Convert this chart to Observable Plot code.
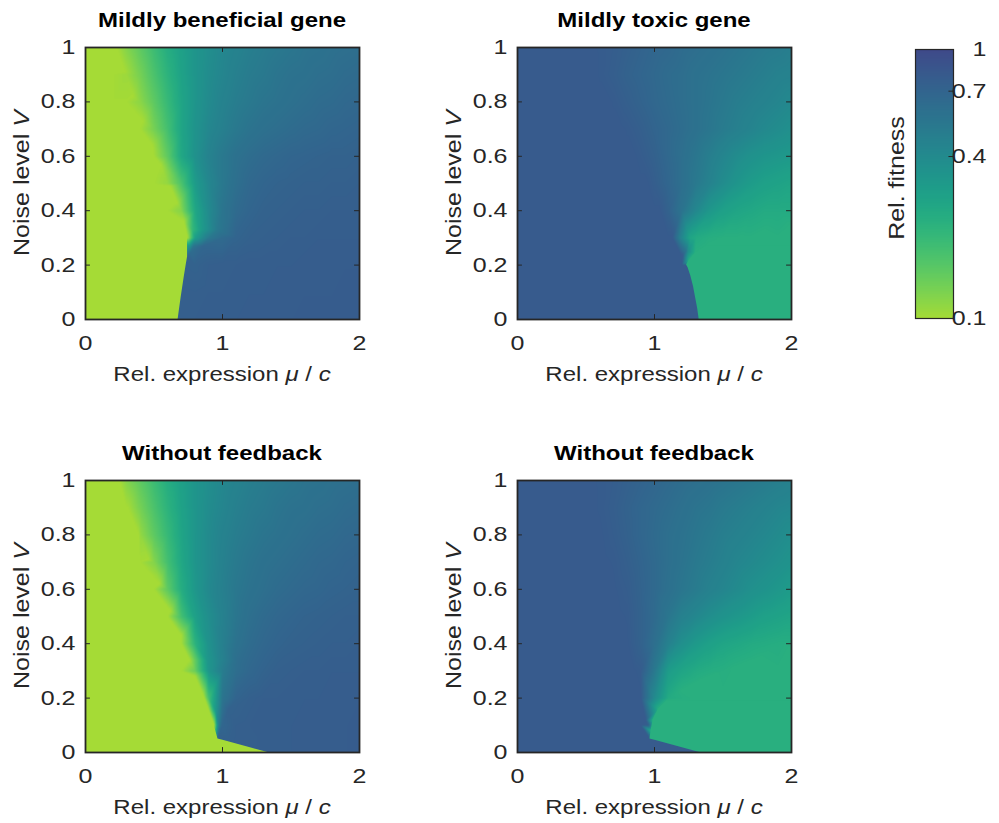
<!DOCTYPE html>
<html><head><meta charset="utf-8">
<script src="https://cdn.jsdelivr.net/npm/d3@7"></script>
<script src="https://cdn.jsdelivr.net/npm/@observablehq/plot@0.6"></script>
<style>
body{margin:0;background:#fff;}
#fig{position:relative;width:999px;height:823px;background:#fff;overflow:hidden;font-family:"Liberation Sans",Arial,sans-serif;}
#fig svg{position:absolute;}
.lab{position:absolute;white-space:nowrap;font-size:20px;line-height:20px;color:#262626;}
.title{font-weight:bold;color:#000;}
</style></head><body><div id="fig"></div>
<script>
// ---- axes ----
const xDomain = [0, 2];
const vDomain = [0, 1];
const xTicks = [0, 1, 2];
const yTicks = [0, 0.2, 0.4, 0.6, 0.8, 1];
const cbTicks = [0.1, 0.4, 0.7, 1];
const cbTickLabels = ["0.1", "0.4", "0.7", "1"];

// ---- sample grid (x = rel. expression, V = noise level; rows top V=1 -> bottom V=0) ----
const gridX = [0,0.1,0.2,0.3,0.4,0.5,0.6,0.7,0.8,0.9,1,1.1,1.2,1.3,1.4,1.5,1.6,1.7,1.8,1.9,2];
const gridV = [1,0.9,0.8,0.7,0.6,0.5,0.4,0.3,0.2,0.1,0];

const titles = ["Mildly beneficial gene", "Mildly toxic gene", "Without feedback", "Without feedback"];

// ===== relative fitness =====
// --- Mildly beneficial gene ---
const benefFB = [
[0.1,0.1,0.1,0.12,0.15,0.19,0.24,0.29,0.34,0.38,0.42,0.45,0.48,0.50,0.52,0.54,0.56,0.57,0.59,0.60,0.61],
[0.1,0.1,0.1,0.105,0.13,0.17,0.22,0.28,0.34,0.39,0.43,0.47,0.50,0.52,0.55,0.57,0.58,0.60,0.61,0.63,0.64],
[0.1,0.1,0.1,0.1,0.115,0.15,0.20,0.27,0.34,0.40,0.45,0.49,0.52,0.55,0.57,0.59,0.61,0.63,0.64,0.66,0.67],
[0.1,0.1,0.1,0.1,0.1,0.13,0.18,0.27,0.35,0.42,0.47,0.52,0.56,0.59,0.61,0.63,0.65,0.66,0.68,0.69,0.70],
[0.1,0.1,0.1,0.1,0.1,0.1,0.15,0.26,0.36,0.45,0.52,0.58,0.62,0.65,0.67,0.69,0.70,0.71,0.72,0.72,0.73],
[0.1,0.1,0.1,0.1,0.1,0.1,0.11,0.17,0.31,0.42,0.52,0.60,0.66,0.69,0.71,0.72,0.73,0.73,0.74,0.74,0.75],
[0.1,0.1,0.1,0.1,0.1,0.1,0.1,0.12,0.26,0.40,0.55,0.64,0.69,0.72,0.73,0.74,0.75,0.75,0.76,0.76,0.76],
[0.1,0.1,0.1,0.1,0.1,0.1,0.1,0.1,0.30,0.52,0.64,0.70,0.73,0.74,0.75,0.76,0.76,0.77,0.77,0.77,0.77],
[0.1,0.1,0.1,0.1,0.1,0.1,0.1,0.1,0.72,0.75,0.76,0.76,0.77,0.77,0.77,0.77,0.78,0.78,0.78,0.78,0.78],
[0.1,0.1,0.1,0.1,0.1,0.1,0.1,0.1,0.75,0.76,0.76,0.77,0.77,0.77,0.78,0.78,0.78,0.78,0.78,0.79,0.79],
[0.1,0.1,0.1,0.1,0.1,0.1,0.1,0.76,0.76,0.77,0.77,0.77,0.78,0.78,0.78,0.78,0.79,0.79,0.79,0.79,0.79]
];
const benefFBSharp = [[0.676,0,0.76],[0.687,0.04,0.76],[0.698,0.08,0.75],[0.710,0.12,0.75],[0.722,0.16,0.74],[0.735,0.2,0.73],[0.745,0.23,0.72]];
const benefFBSoft = [[0.745,0.23],[0.745,0.3],[0.72,0.36],[0.67,0.43],[0.62,0.49],[0.55,0.57],[0.49,0.64],[0.42,0.73],[0.35,0.82],[0.29,0.91],[0.23,1]];
const benefFBFan = [[0.77,0.25,0.62],[0.76,0.27,0.35],[0.79,0.27,0.55],[0.86,0.27,0.68],[0.78,0.33,0.2],[0.84,0.33,0.30],[0.965,0.33,0.52]];

// --- Mildly toxic gene ---
const toxicFB = [
[0.8,0.8,0.8,0.8,0.8,0.8,0.79,0.77,0.74,0.71,0.68,0.66,0.63,0.61,0.59,0.57,0.55,0.53,0.51,0.50,0.48],
[0.8,0.8,0.8,0.8,0.8,0.8,0.79,0.76,0.72,0.69,0.66,0.63,0.61,0.58,0.56,0.54,0.52,0.50,0.48,0.46,0.45],
[0.8,0.8,0.8,0.8,0.8,0.8,0.8,0.79,0.75,0.71,0.67,0.64,0.61,0.58,0.55,0.52,0.49,0.47,0.45,0.43,0.41],
[0.8,0.8,0.8,0.8,0.8,0.8,0.8,0.8,0.79,0.75,0.70,0.66,0.62,0.58,0.54,0.50,0.47,0.44,0.41,0.39,0.37],
[0.8,0.8,0.8,0.8,0.8,0.8,0.8,0.8,0.8,0.78,0.73,0.66,0.60,0.54,0.48,0.43,0.39,0.36,0.34,0.33,0.32],
[0.8,0.8,0.8,0.8,0.8,0.8,0.8,0.8,0.8,0.8,0.76,0.68,0.60,0.52,0.45,0.39,0.34,0.31,0.29,0.28,0.27],
[0.8,0.8,0.8,0.8,0.8,0.8,0.8,0.8,0.8,0.8,0.8,0.72,0.56,0.42,0.33,0.29,0.27,0.26,0.25,0.25,0.25],
[0.8,0.8,0.8,0.8,0.8,0.8,0.8,0.8,0.8,0.8,0.8,0.8,0.42,0.25,0.235,0.23,0.23,0.23,0.23,0.23,0.23],
[0.8,0.8,0.8,0.8,0.8,0.8,0.8,0.8,0.8,0.8,0.8,0.8,0.8,0.23,0.23,0.23,0.23,0.23,0.23,0.23,0.23],
[0.8,0.8,0.8,0.8,0.8,0.8,0.8,0.8,0.8,0.8,0.8,0.8,0.8,0.23,0.23,0.23,0.23,0.23,0.23,0.23,0.23],
[0.8,0.8,0.8,0.8,0.8,0.8,0.8,0.8,0.8,0.8,0.8,0.8,0.8,0.8,0.23,0.23,0.23,0.23,0.23,0.23,0.23]
];
const toxicFBSharp = [[1.326,0,0.8],[1.315,0.04,0.8],[1.300,0.08,0.8],[1.285,0.12,0.8],[1.265,0.16,0.8],[1.245,0.19,0.8],[1.234,0.2,0.8]];
const toxicFBSoft = [[1.234,0.2],[1.25,0.215],[1.30,0.245],[1.38,0.27],[1.5,0.29],[1.62,0.305],[1.8,0.325],[2,0.345]];
const toxicFBFan = [[0.47,1,0.8],[0.565,0.9,0.8],[0.66,0.8,0.8],[0.755,0.7,0.8],[0.85,0.6,0.8],[0.945,0.5,0.8],[1.04,0.4,0.8],[1.13,0.3,0.8],[1.19,0.24,0.8],
  [1.21,0.24,0.74],[1.23,0.25,0.55],[1.245,0.25,0.38],[1.19,0.3,0.45],[1.26,0.3,0.27]];

// --- Without feedback (beneficial) ---
const benefNoFB = [
[0.1,0.1,0.1,0.12,0.15,0.19,0.24,0.29,0.34,0.38,0.42,0.45,0.48,0.50,0.52,0.54,0.56,0.57,0.59,0.60,0.61],
[0.1,0.1,0.1,0.1,0.13,0.17,0.22,0.28,0.34,0.39,0.43,0.47,0.50,0.52,0.55,0.57,0.58,0.60,0.61,0.63,0.64],
[0.1,0.1,0.1,0.1,0.11,0.15,0.20,0.27,0.34,0.40,0.45,0.49,0.52,0.55,0.57,0.59,0.61,0.63,0.64,0.66,0.67],
[0.1,0.1,0.1,0.1,0.1,0.12,0.18,0.26,0.34,0.40,0.46,0.51,0.55,0.58,0.60,0.62,0.64,0.66,0.67,0.69,0.70],
[0.1,0.1,0.1,0.1,0.1,0.1,0.15,0.24,0.33,0.41,0.47,0.53,0.57,0.60,0.63,0.65,0.67,0.68,0.70,0.71,0.72],
[0.1,0.1,0.1,0.1,0.1,0.1,0.1,0.18,0.29,0.38,0.46,0.54,0.60,0.64,0.67,0.69,0.71,0.72,0.73,0.74,0.74],
[0.1,0.1,0.1,0.1,0.1,0.1,0.1,0.1,0.22,0.36,0.47,0.57,0.63,0.67,0.70,0.72,0.73,0.74,0.75,0.75,0.76],
[0.1,0.1,0.1,0.1,0.1,0.1,0.1,0.1,0.14,0.34,0.49,0.61,0.67,0.71,0.74,0.75,0.76,0.76,0.77,0.77,0.77],
[0.1,0.1,0.1,0.1,0.1,0.1,0.1,0.1,0.1,0.18,0.55,0.70,0.74,0.76,0.76,0.77,0.77,0.77,0.78,0.78,0.78],
[0.1,0.1,0.1,0.1,0.1,0.1,0.1,0.1,0.1,0.1,0.68,0.75,0.76,0.77,0.77,0.77,0.78,0.78,0.78,0.78,0.79],
[0.1,0.1,0.1,0.1,0.1,0.1,0.1,0.1,0.1,0.1,0.1,0.1,0.1,0.1,0.76,0.77,0.77,0.78,0.78,0.78,0.79]
];
const benefNoFBSharp = [[1.33,0,0.76],[1.29,0.0055,0.76],[1.25,0.011,0.76],[1.21,0.0165,0.75],[1.17,0.022,0.75],[1.13,0.0275,0.75],[1.09,0.033,0.75],[1.05,0.0385,0.74],[1.01,0.044,0.74],[0.967,0.05,0.73]];
const benefNoFBSoft = [[0.967,0.05],[0.94,0.1],[0.90,0.155],[0.86,0.21],[0.80,0.28],[0.76,0.34],[0.70,0.43],[0.62,0.52],[0.54,0.62],[0.46,0.71],[0.39,0.8],[0.31,0.9],[0.25,1]];
const benefNoFBFan = [[0.96,0.1,0.3],[0.975,0.1,0.5],[0.99,0.1,0.64],[0.95,0.155,0.33],[1.0,0.155,0.6],[1.04,0.155,0.72],[0.89,0.34,0.33],[0.99,0.34,0.45],[1.11,0.34,0.61]];

// --- Without feedback (toxic) ---
const toxicNoFB = [
[0.8,0.8,0.8,0.8,0.8,0.8,0.79,0.77,0.74,0.71,0.68,0.65,0.62,0.60,0.58,0.56,0.54,0.52,0.50,0.48,0.46],
[0.8,0.8,0.8,0.8,0.8,0.8,0.79,0.76,0.72,0.68,0.65,0.62,0.59,0.56,0.54,0.51,0.49,0.47,0.45,0.43,0.42],
[0.8,0.8,0.8,0.8,0.8,0.8,0.8,0.77,0.73,0.68,0.64,0.60,0.57,0.54,0.51,0.48,0.46,0.44,0.42,0.40,0.38],
[0.8,0.8,0.8,0.8,0.8,0.8,0.8,0.79,0.75,0.70,0.65,0.60,0.56,0.52,0.49,0.46,0.43,0.41,0.39,0.37,0.35],
[0.8,0.8,0.8,0.8,0.8,0.8,0.8,0.8,0.77,0.71,0.65,0.59,0.54,0.50,0.46,0.43,0.40,0.37,0.35,0.33,0.31],
[0.8,0.8,0.8,0.8,0.8,0.8,0.8,0.8,0.79,0.72,0.64,0.54,0.46,0.42,0.38,0.35,0.33,0.31,0.29,0.28,0.27],
[0.8,0.8,0.8,0.8,0.8,0.8,0.8,0.8,0.8,0.72,0.60,0.46,0.37,0.32,0.29,0.27,0.26,0.25,0.245,0.24,0.24],
[0.8,0.8,0.8,0.8,0.8,0.8,0.8,0.8,0.8,0.78,0.52,0.31,0.27,0.25,0.24,0.235,0.23,0.23,0.23,0.23,0.23],
[0.8,0.8,0.8,0.8,0.8,0.8,0.8,0.8,0.8,0.8,0.40,0.25,0.235,0.23,0.23,0.23,0.23,0.23,0.23,0.23,0.23],
[0.8,0.8,0.8,0.8,0.8,0.8,0.8,0.8,0.8,0.8,0.24,0.23,0.23,0.23,0.23,0.23,0.23,0.23,0.23,0.23,0.23],
[0.8,0.8,0.8,0.8,0.8,0.8,0.8,0.8,0.8,0.8,0.8,0.8,0.8,0.8,0.23,0.23,0.23,0.23,0.23,0.23,0.23]
];
const toxicNoFBSharp = [[1.33,0,0.8],[1.29,0.0055,0.8],[1.25,0.011,0.8],[1.21,0.0165,0.8],[1.17,0.022,0.8],[1.13,0.0275,0.8],[1.09,0.033,0.8],[1.05,0.0385,0.8],[1.01,0.044,0.8],[0.967,0.05,0.8]];
const toxicNoFBSoft = [[0.967,0.05],[0.975,0.08],[0.99,0.12],[1.03,0.16],[1.09,0.19],[1.2,0.23],[1.33,0.265],[1.45,0.29],[1.57,0.31],[1.75,0.345],[2,0.39]];
const toxicNoFBFan = [[0.47,1,0.8],[0.524,0.9,0.8],[0.577,0.8,0.8],[0.63,0.7,0.8],[0.685,0.6,0.8],[0.738,0.5,0.8],[0.79,0.4,0.8],[0.846,0.3,0.8],[0.9,0.2,0.8],[0.935,0.12,0.8],
  [0.955,0.1,0.75],[0.965,0.11,0.5],[0.975,0.115,0.32]];

// plateau levels (flat regions) of each panel
const plateaus = [0.1, 0.23, 0.1, 0.23];

const panels = [
  {grid: benefFB, sharp: benefFBSharp, soft: benefFBSoft, fan: benefFBFan, side: "left", capV: 0.36, left: 0, top: 0},
  {grid: toxicFB, sharp: toxicFBSharp, soft: toxicFBSoft, fan: toxicFBFan, side: "right", capV: 0.27, left: 432, top: 0},
  {grid: benefNoFB, sharp: benefNoFBSharp, soft: benefNoFBSoft, fan: benefNoFBFan, side: "left", capV: 0.21, left: 0, top: 433},
  {grid: toxicNoFB, sharp: toxicNoFBSharp, soft: toxicNoFBSoft, fan: toxicNoFBFan, side: "right", capV: 0.19, left: 432, top: 433}
];

// ---- shared styling ----
const INK = "#262626";
const FONT = "'Liberation Sans', Arial, sans-serif";
const colorScale = {type: "linear", domain: [-1, 0], clamp: true,
  interpolate: t => d3.interpolateViridis(0.865 - 0.645 * t)};
const fig = document.getElementById("fig");
const PXX = 137, PXV = 272; // pixels per data unit (for neighbourhood test only)

function stretchText(svg, k) {
  svg.querySelectorAll("text").forEach(t => {
    const tr = t.getAttribute("transform");
    if (tr) t.setAttribute("transform", tr + ` scale(${k},1)`);
  });
}
function place(svg, left, top) {
  svg.style.left = left + "px";
  svg.style.top = top + "px";
  fig.appendChild(svg);
}
function label(html, cx, baseline, cls) {
  const d = document.createElement("div");
  d.className = "lab " + (cls || "");
  d.innerHTML = html;
  d.style.left = cx + "px";
  d.style.top = (baseline - 17) + "px";
  d.style.transform = "translateX(-50%) scaleX(1.2)";
  fig.appendChild(d);
}
function vlabel(html, cx, cy) {
  const d = document.createElement("div");
  d.className = "lab";
  d.innerHTML = html;
  d.style.left = cx + "px";
  d.style.top = cy + "px";
  d.style.transform = "translate(-50%,-50%) rotate(-90deg) scale(1.25,1.07)";
  fig.appendChild(d);
}

panels.forEach((p, k) => {
  const plateau = plateaus[k];
  const lp = Math.log10(plateau);
  const nearSharp = (x, y) => p.sharp.some(([sx, sy]) => Math.hypot((x - sx) * PXX, (y - sy) * PXV) < 25);
  const pts = [];
  p.grid.forEach((row, i) => row.forEach((v, j) => {
    const x = gridX[j], y = gridV[i];
    if (v === plateau && nearSharp(x, y)) return; // flat area next to the jump: drawn by the area mark
    pts.push({x, y, lv: Math.log10(v)});
  }));
  p.sharp.forEach(([x, y, v]) => pts.push({x, y, lv: Math.log10(v)}));
  p.soft.slice(1).forEach(([x, y]) => pts.push({x, y, lv: lp}));
  p.fan.forEach(([x, y, v]) => pts.push({x, y, lv: Math.log10(v)}));
  // flat region bounded by the sharp jump (and the start of the soft edge)
  const poly = [...p.sharp.map(([x, y]) => [x, y]), ...p.soft.slice(1).filter(([x, y]) => y <= p.capV)];
  const svg = Plot.plot({
    width: 440, height: 420,
    marginLeft: 85, marginRight: 81, marginTop: 47, marginBottom: 101,
    style: {fontSize: "20px", fontFamily: FONT, color: INK, background: "transparent"},
    x: {domain: xDomain, ticks: xTicks, tickFormat: d => String(d), tickSize: 0, tickPadding: 16, label: null},
    y: {domain: vDomain, ticks: yTicks, tickFormat: d => String(d), tickSize: 0, tickPadding: 10, label: null},
    color: colorScale,
    marks: [
      Plot.raster(pts, {x: "x", y: "y", fill: "lv", interpolate: "barycentric"}),
      Plot.areaX(poly, {
        y: d => d[1],
        x1: p.side === "left" ? () => xDomain[0] : d => d[0],
        x2: p.side === "left" ? d => d[0] : () => xDomain[1],
        fill: () => lp
      }),
      Plot.ruleX(xTicks, {y1: 0, y2: 0.018, stroke: INK, strokeWidth: 1}),
      Plot.ruleX(xTicks, {y1: 0.982, y2: 1, stroke: INK, strokeWidth: 1}),
      Plot.ruleY(yTicks, {x1: 0, x2: 0.036, stroke: INK, strokeWidth: 1}),
      Plot.ruleY(yTicks, {x1: 1.964, x2: 2, stroke: INK, strokeWidth: 1}),
      Plot.frame({stroke: INK, strokeWidth: 1.8})
    ]
  });
  stretchText(svg, 1.25);
  place(svg, p.left, p.top);
  const cx = p.left + 85 + 137;
  label(titles[k], cx, p.top + 27, "title");
  label("Rel. expression <i>\u03BC</i> / <i>c</i>", cx, p.top + 381);
  vlabel("Noise level <i>V</i>", p.left + 22, p.top + 47 + 136);
});

// ---- colour bar ----
const cbLog = cbTicks.map(Math.log10);
const cb = Plot.plot({
  width: 139, height: 360,
  marginLeft: 55, marginRight: 46, marginTop: 49, marginBottom: 42,
  style: {fontSize: "20px", fontFamily: FONT, color: INK, background: "transparent"},
  x: {domain: [0, 1], axis: null},
  y: {domain: [-1, 0]},
  color: colorScale,
  marks: [
    Plot.raster({x1: 0, x2: 1, y1: -1, y2: 0, fill: (x, y) => y}),
    Plot.ruleY(cbLog, {x1: 0.88, x2: 1, stroke: INK, strokeWidth: 1}),
    Plot.frame({stroke: INK, strokeWidth: 1.2}),
    Plot.axisY(cbLog, {anchor: "right", tickSize: 0, tickPadding: 33, textAnchor: "end",
      tickFormat: d => cbTickLabels[cbLog.indexOf(d)], label: null})
  ]
});
stretchText(cb, 1.25);
place(cb, 860, 0);
vlabel("Rel. fitness", 897, 178);
</script>
</body></html>
